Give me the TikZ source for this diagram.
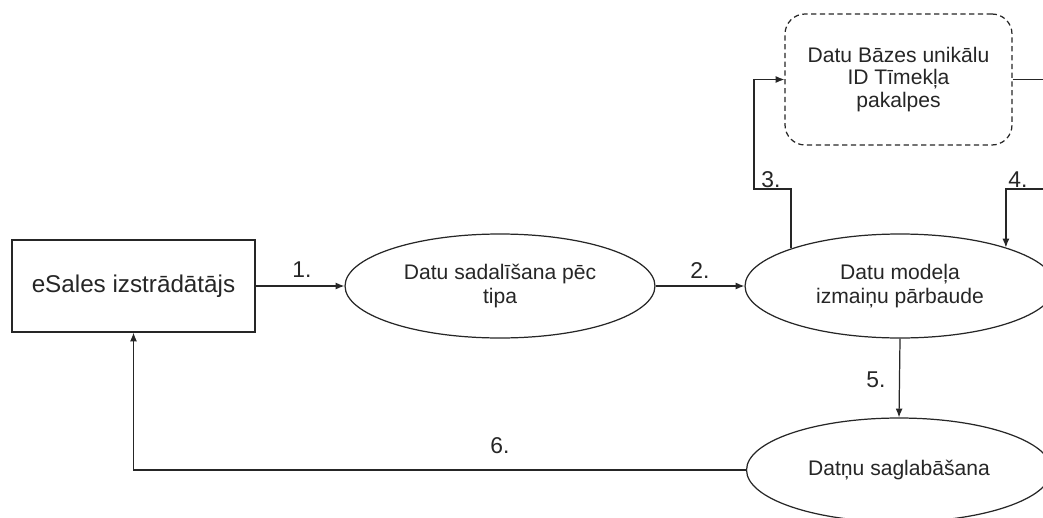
\documentclass[tikz,border=0pt]{standalone}
\usepackage{fontspec}
\setmainfont{Liberation Sans}
\usetikzlibrary{shapes.geometric,arrows.meta}

\begin{document}
\begin{tikzpicture}[x=0.02cm,y=-0.02cm,line width=0.7pt,color=black!85,
    flow/.style={-{Latex[length=5pt,width=4pt]}},
    proc/.style={ellipse,draw,minimum width=6.2cm,minimum height=2.08cm,inner sep=0pt,
      align=center,font=\fontsize{12}{13.5}\selectfont},
    lbl/.style={font=\fontsize{13}{15}\selectfont}]
    \useasboundingbox (0,0) rectangle (1043,517);
    % actors and processes
    \node[draw,minimum width=4.86cm,minimum height=1.84cm,font=\fontsize{13.8}{16}\selectfont] (dev) at (133.5,286) {eSales izstrādātājs};
    \node[proc] (sort) at (500,286) {Datu sadalīšana pēc\\tipa};
    \node[proc] (mod) at (900,286) {Datu modeļa\\izmaiņu pārbaude};
    \node[proc,minimum width=6.1cm] (save) at (899,470) {Datņu saglabāšana};
    \node[draw,dash pattern=on 3pt off 2pt,rounded corners=0.4cm,minimum width=4.54cm,minimum height=2.62cm,
      align=center,font=\fontsize{12}{13}\selectfont] (db) at (898.5,79.5) {Datu Bāzes unikālu\\ID Tīmekļa\\pakalpes};
    \coordinate (k3) at (754,189);
    \coordinate (k4) at (1060,189);
    % flows
    \draw[flow] (dev.east) -- (sort.west); \node[lbl] (n1) at (302,270) {1.};
    \draw[flow] (sort.east) -- (mod.west); \node[lbl] (n2) at (700,271) {2.};
    \draw[flow] (mod.161) |- (k3) |- (db.west); \node[lbl] (n3) at (771,180) {3.};
    \draw[flow] (db.east) -| (k4) -| (mod.20); \node[lbl] (n4) at (1018,180) {4.};
    \draw[flow] (mod.south) -- (save.north); \node[lbl] (n5) at (876,380) {5.};
    \draw[flow] (save.west) -| (dev.south); \node[lbl] (n6) at (500,446) {6.};
  \end{tikzpicture}
\end{document}
